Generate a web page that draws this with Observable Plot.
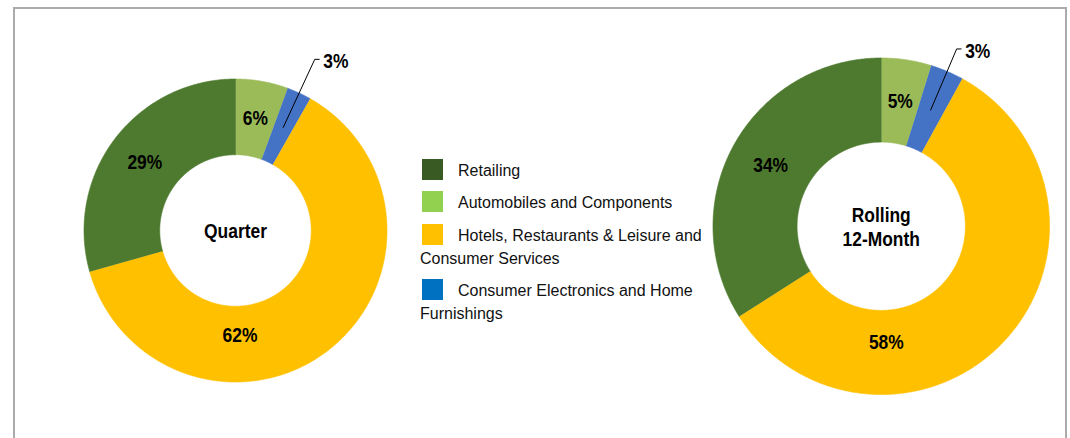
<!DOCTYPE html>
<html>
<head>
<meta charset="utf-8">
<script src="https://cdn.jsdelivr.net/npm/d3@7"></script>
<script src="https://cdn.jsdelivr.net/npm/@observablehq/plot@0.6"></script>
<style>
  html, body { margin: 0; padding: 0; background: #fff; overflow: hidden; }
  #wrap { position: relative; width: 1070px; height: 438px; overflow: hidden;
          font-family: "Liberation Sans", Arial, sans-serif; }
  #frame { position: absolute; left: 13px; top: 7px; width: 1054px; height: 470px;
           border: 2px solid #ababab; box-sizing: border-box; }
  .chart { position: absolute; }
  #legend { position: absolute; left: 420px; top: 159px; width: 288px;
            font-size: 16px; line-height: 23px; color: #111; }
  .item { margin-bottom: 9.3px; }
  .sw { display: inline-block; width: 21px; height: 21px; margin-left: 2px; margin-right: 15px;
        vertical-align: -4px; }
</style>
</head>
<body>
<div id="wrap">
  <div id="frame"></div>
  <div id="left" class="chart"></div>
  <div id="legend"></div>
  <div id="right" class="chart"></div>
</div>
<script>
// ---- data ----
const categories = [
  "Automobiles and Components",
  "Consumer Electronics and Home Furnishings",
  "Hotels, Restaurants & Leisure and Consumer Services",
  "Retailing"
];
const quarterShares = [5.6, 2.6, 62.4, 29.4];
const rolling12Shares = [4.8, 3.2, 58.0, 34.0];
const chartTitles = ["Quarter", "Rolling\n12-Month"];
const legendOrder = [
  "Retailing",
  "Automobiles and Components",
  "Hotels, Restaurants & Leisure and Consumer Services",
  "Consumer Electronics and Home Furnishings"
];

// ---- styles ----
const sliceColors = ["#9BBB59", "#4472C4", "#FFC000", "#4E7A2F"];
const legendColors = {
  "Retailing": "#3A5A24",
  "Automobiles and Components": "#92D050",
  "Hotels, Restaurants & Leisure and Consumer Services": "#FFC000",
  "Consumer Electronics and Home Furnishings": "#0070C0"
};
const labelFont = '"Liberation Sans Narrow", "Arial Narrow", "Liberation Sans", Arial, sans-serif';
const narrowScale = 0.83;

function donut(el, shares, title, layout) {
  const {cx, cy, R, W, H, leaderR} = layout;
  const inner = 0.5;
  const arcs = d3.pie().sort(null).value(d => d.value)
    (categories.map((c, i) => ({cat: c, value: shares[i]})));
  const poly = [];
  for (const p of arcs) {
    const n = Math.max(2, Math.ceil((p.endAngle - p.startAngle) / (Math.PI / 360)));
    for (let k = 0; k <= n; k++) {
      const a = p.startAngle + (p.endAngle - p.startAngle) * k / n;
      poly.push({cat: p.data.cat, x: Math.sin(a), y: Math.cos(a)});
    }
    for (let k = n; k >= 0; k--) {
      const a = p.startAngle + (p.endAngle - p.startAngle) * k / n;
      poly.push({cat: p.data.cat, x: inner * Math.sin(a), y: inner * Math.cos(a)});
    }
  }
  const maxShare = d3.max(shares);
  const inside = [], outside = [], leader = [];
  for (const p of arcs) {
    const txt = Math.round(p.data.value) + "%";
    const mid = (p.startAngle + p.endAngle) / 2;
    if (p.data.value < 4) {
      const r0 = (1 + inner) / 2;
      const ex = leaderR * Math.sin(mid), ey = leaderR * Math.cos(mid);
      leader.push({cat: p.data.cat, x: r0 * Math.sin(mid), y: r0 * Math.cos(mid)});
      leader.push({cat: p.data.cat, x: ex, y: ey});
      leader.push({cat: p.data.cat, x: ex + 4.5 / R, y: ey});
      outside.push({x: ex + 4.5 / R, y: ey, text: txt});
    } else if (p.data.value === maxShare) {
      const r = 0.69;
      inside.push({x: 0.03, y: -r, text: txt});
    } else {
      const r = (1 + inner) / 2;
      inside.push({x: r * Math.sin(mid), y: r * Math.cos(mid), text: txt});
    }
  }
  const chart = Plot.plot({
    width: W, height: H, margin: 0,
    x: {domain: [-W / 2 / R, W / 2 / R], axis: null},
    y: {domain: [-H / 2 / R, H / 2 / R], axis: null},
    color: {domain: categories, range: sliceColors},
    style: {background: "transparent", overflow: "visible"},
    marks: [
      Plot.line(poly, {x: "x", y: "y", z: "cat", fill: "cat", stroke: "cat", strokeWidth: 0.6, curve: "linear"}),
      Plot.text(inside, {x: "x", y: "y", text: "text", fontSize: 21, fontWeight: "bold",
        fontFamily: labelFont, fill: "#000"}),
      Plot.line(leader, {x: "x", y: "y", z: "cat", stroke: "#000", strokeWidth: 1}),
      Plot.text(outside, {x: "x", y: "y", text: "text", textAnchor: "start", dx: 4, dy: 2,
        fontSize: 21, fontWeight: "bold", fontFamily: labelFont, fill: "#000"}),
      Plot.text([title], {frameAnchor: "middle", text: d => d, fontSize: 21, fontWeight: "bold",
        lineHeight: 1.14, fontFamily: labelFont, fill: "#000"})
    ]
  });
  // emulate a narrow bold face by condensing each label horizontally around its anchor
  d3.select(chart).selectAll('g[aria-label="text"] text').each(function () {
    const t = this.getAttribute("transform") || "";
    this.setAttribute("transform", t + ` scale(${narrowScale},1)`);
  });
  el.style.left = (cx - W / 2) + "px";
  el.style.top = (cy - H / 2) + "px";
  el.appendChild(chart);
}

donut(document.getElementById("left"), quarterShares, chartTitles[0],
  {cx: 235, cy: 229.5, R: 151.5, W: 420, H: 420, leaderR: 1.245});
donut(document.getElementById("right"), rolling12Shares, chartTitles[1],
  {cx: 880.5, cy: 225.7, R: 168.5, W: 380, H: 380, leaderR: 1.145});

// ---- legend ----
const legend = d3.select("#legend");
for (const name of legendOrder) {
  const item = legend.append("div").attr("class", "item");
  item.append("span").attr("class", "sw").style("background", legendColors[name]);
  item.append("span").text(name);
}
</script>
</body>
</html>
